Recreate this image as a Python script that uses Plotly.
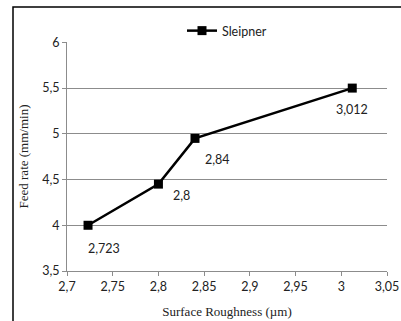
import plotly.graph_objects as go

series_name = "Sleipner"
roughness = [2.723, 2.8, 2.84, 3.012]
feed_rate = [4.0, 4.45, 4.95, 5.5]
point_labels = ["2,723", "2,8", "2,84", "3,012"]

x_tickvals = [2.7, 2.75, 2.8, 2.85, 2.9, 2.95, 3.0, 3.05]
x_ticktext = ["2,7", "2,75", "2,8", "2,85", "2,9", "2,95", "3", "3,05"]
y_tickvals = [3.5, 4.0, 4.5, 5.0, 5.5, 6.0]
y_ticktext = ["3,5", "4", "4,5", "5", "5,5", "6"]

# label offsets in pixels (style)
label_dx = [16, 23, 22, 0]
label_dy = [-23, -11, -21, -21]

fig = go.Figure()
fig.add_trace(go.Scatter(
    x=roughness, y=feed_rate, mode="lines+markers", name=series_name,
    line=dict(color="black", width=2.5),
    marker=dict(symbol="square", size=9, color="black"),
    showlegend=True,
))

for xv, yv, t, dx, dy in zip(roughness, feed_rate, point_labels, label_dx, label_dy):
    fig.add_annotation(x=xv, y=yv, text=t, showarrow=False, xshift=dx, yshift=dy,
                       xanchor="center", yanchor="middle",
                       font=dict(family="Lato, sans-serif", size=12.5, color="#222222"))

W, H = 401, 321
L, R, T, B = 67, 14, 42, 50
PW, PH = W - L - R, H - T - B
grid = "#8c8c8c"
fig.update_layout(
    width=W, height=H,
    margin=dict(l=L, r=R, t=T, b=B, autoexpand=False),
    paper_bgcolor="white", plot_bgcolor="white",
    font=dict(family="Lato, sans-serif", size=12.5, color="#222222"),
    separators=", ",
    legend=dict(orientation="h", x=0.5, xanchor="center",
                yref="container", y=1 - 31 / H, yanchor="middle",
                font=dict(family="Lato, sans-serif", size=12.5, color="#222222"),
                bgcolor="rgba(0,0,0,0)"),
    xaxis=dict(range=[2.7, 3.05], tickvals=x_tickvals, ticktext=x_ticktext,
               showgrid=False, zeroline=False, showline=True, linecolor=grid, linewidth=1,
               ticks="outside", ticklen=4, tickcolor=grid,
               title=dict(text="Surface Roughness (µm)", standoff=13,
                          font=dict(family="Liberation Serif, serif", size=13, color="#222222"))),
    yaxis=dict(range=[3.5, 6.004], tickvals=y_tickvals, ticktext=y_ticktext,
               showgrid=True, gridcolor=grid, gridwidth=1, zeroline=False,
               showline=True, linecolor=grid, linewidth=1,
               ticks="outside", ticklen=4, tickcolor=grid,
               title=dict(text="Feed rate (mm/min)", standoff=10,
                          font=dict(family="Liberation Serif, serif", size=13, color="#222222"))),
)

# outer chart frame (extends past the image on right and bottom)
fig.add_shape(type="rect", xref="paper", yref="paper",
              x0=(13 - L) / PW, x1=1.3, y0=-0.5, y1=(H - B - 7) / PH,
              line=dict(color="black", width=1.5), fillcolor="rgba(0,0,0,0)", layer="above")

fig.write_html("out.html", config={"displayModeBar": False},
               post_script="document.body.style.margin='0';document.body.style.overflow='hidden';")
